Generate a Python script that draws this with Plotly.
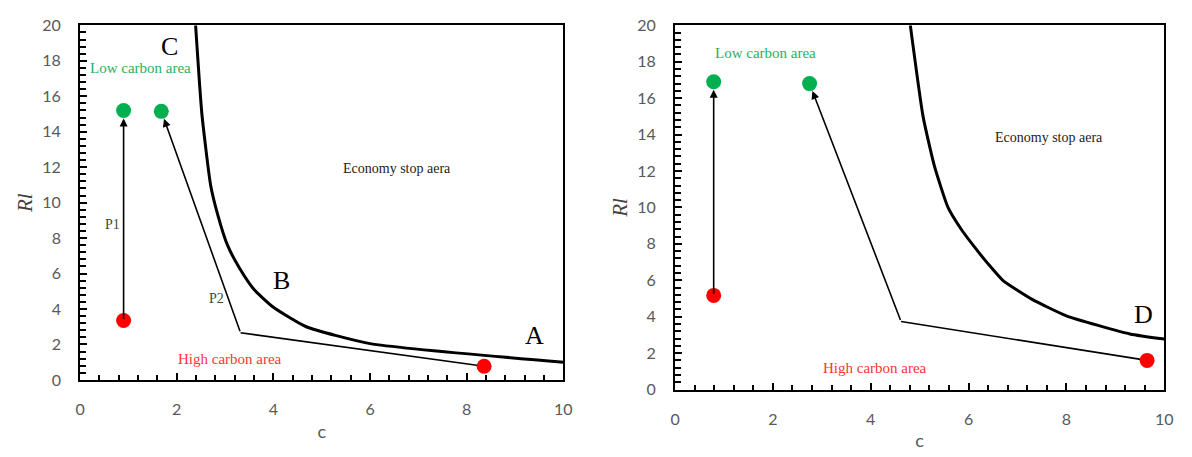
import plotly.graph_objects as go

# ---------------- data ----------------
# Left panel: economy-stop boundary (A-B-C)
left_curve_c = [2.39, 2.52, 2.7, 2.85, 3.05, 3.3, 3.6, 4.0, 4.68, 6.0, 10.0]
left_curve_rl = [20, 15, 11, 9.3, 7.6, 6.3, 5.1, 4.1, 3.0, 2.05, 1.0]
# Left panel path P1
left_p1_c = [0.9, 0.9]
left_p1_rl = [3.35, 15.2]
# Left panel path P2 (start, kink, end)
left_p2_c = [8.36, 3.32, 1.68]
left_p2_rl = [0.77, 2.66, 15.15]

# Right panel: economy-stop boundary (D)
right_curve_c = [4.81, 5.07, 5.3, 5.58, 5.85, 6.1, 6.4, 6.7, 7.3, 8.0, 9.3, 10.0]
right_curve_rl = [20, 15, 12.3, 10, 8.8, 7.9, 6.9, 6.0, 4.95, 4.05, 3.05, 2.77]
# Right panel path P1
right_p1_c = [0.79, 0.79]
right_p1_rl = [5.17, 16.9]
# Right panel path P2 (start, kink, end)
right_p2_c = [9.65, 4.62, 2.75]
right_p2_rl = [1.6, 3.74, 16.8]

x_range = [0, 10]
y_range = [0, 20]

GREEN = "#00B050"
RED = "#FF0000"
SERIF = "Liberation Serif"

fig = go.Figure()

def add_panel(xa, ya, curve_c, curve_rl, p1_c, p1_rl, p2_c, p2_rl):
    fig.add_trace(go.Scatter(x=curve_c, y=curve_rl, mode="lines",
                             line=dict(color="black", width=3, shape="spline", smoothing=0.5),
                             xaxis=xa, yaxis=ya, showlegend=False, hoverinfo="skip"))
    fig.add_annotation(x=p1_c[1], y=p1_rl[1], ax=p1_c[0], ay=p1_rl[0],
                       xref=xa, yref=ya, axref=xa, ayref=ya, text="",
                       showarrow=True, arrowhead=2, arrowsize=1, arrowwidth=1.6,
                       arrowcolor="black", standoff=8)
    fig.add_trace(go.Scatter(x=p2_c[:2], y=p2_rl[:2], mode="lines",
                             line=dict(color="black", width=1.6),
                             xaxis=xa, yaxis=ya, showlegend=False, hoverinfo="skip"))
    fig.add_annotation(x=p2_c[2], y=p2_rl[2], ax=p2_c[1], ay=p2_rl[1],
                       xref=xa, yref=ya, axref=xa, ayref=ya, text="",
                       showarrow=True, arrowhead=2, arrowsize=1, arrowwidth=1.6,
                       arrowcolor="black", standoff=8)
    fig.add_trace(go.Scatter(x=[p1_c[0], p2_c[0]], y=[p1_rl[0], p2_rl[0]], mode="markers",
                             marker=dict(color=RED, size=15),
                             xaxis=xa, yaxis=ya, showlegend=False, hoverinfo="skip"))
    fig.add_trace(go.Scatter(x=[p1_c[1], p2_c[2]], y=[p1_rl[1], p2_rl[2]], mode="markers",
                             marker=dict(color=GREEN, size=15),
                             xaxis=xa, yaxis=ya, showlegend=False, hoverinfo="skip"))

add_panel("x", "y", left_curve_c, left_curve_rl, left_p1_c, left_p1_rl, left_p2_c, left_p2_rl)
add_panel("x2", "y2", right_curve_c, right_curve_rl, right_p1_c, right_p1_rl, right_p2_c, right_p2_rl)

def label(xref, yref, x, y, text, color="black", size=15):
    fig.add_annotation(x=x, y=y, xref=xref, yref=yref, text=text, showarrow=False,
                       font=dict(family=SERIF, size=size, color=color))

# left labels
label("x", "y", 1.86, 18.8, "C", size=26)
label("x", "y", 1.26, 17.6, "Low carbon area", color="#22B35F")
label("x", "y", 6.56, 11.95, "Economy stop aera", color="#222222", size=14)
label("x", "y", 4.17, 5.6, "B", size=26)
label("x", "y", 9.4, 2.5, "A", size=26)
label("x", "y", 0.68, 8.75, "P1", color="#444444", size=14)
label("x", "y", 2.82, 4.6, "P2", color="#444444", size=14)
label("x", "y", 3.11, 1.17, "High carbon area", color="#FF3333")
# right labels
label("x2", "y2", 1.84, 18.5, "Low carbon area", color="#22B35F")
label("x2", "y2", 7.65, 13.86, "Economy stop aera", color="#222222", size=14)
label("x2", "y2", 9.57, 4.1, "D", size=26)
label("x2", "y2", 4.08, 1.16, "High carbon area", color="#FF3333")

TICKFONT = dict(family="Lato", size=16, color="#595959")

def xaxis_cfg(domain, anchor):
    return dict(domain=domain, anchor=anchor, range=x_range,
                tickmode="linear", tick0=0, dtick=2,
                ticks="inside", ticklen=7, tickwidth=2, tickcolor="black",
                minor=dict(ticks="inside", tick0=0, dtick=0.4, ticklen=5, tickwidth=2,
                           tickcolor="black", showgrid=False),
                showline=True, linecolor="black", linewidth=2, mirror=True,
                showgrid=False, zeroline=False, tickfont=TICKFONT, ticklabelstandoff=14,
                title=dict(text="c", font=dict(family="Lato", size=18, color="#595959"),
                           standoff=8))

def yaxis_cfg(domain, anchor):
    return dict(domain=domain, anchor=anchor, range=y_range,
                tickmode="linear", tick0=0, dtick=2,
                ticks="inside", ticklen=7, tickwidth=2, tickcolor="black",
                minor=dict(ticks="inside", tick0=0, dtick=0.4, ticklen=6, tickwidth=2,
                           tickcolor="black", showgrid=False),
                showline=True, linecolor="black", linewidth=2, mirror=True,
                showgrid=False, zeroline=False, tickfont=TICKFONT, ticklabelstandoff=14,
                title=dict(text="<i>Rl</i>", font=dict(family=SERIF, size=21, color="#404040"),
                           standoff=4))

fig.update_layout(
    width=1192, height=457,
    margin=dict(l=0, r=0, t=0, b=0),
    paper_bgcolor="white", plot_bgcolor="white",
    xaxis=xaxis_cfg([76 / 1192, 565 / 1192], "y"),
    yaxis=yaxis_cfg([1 - 386 / 457, 1 - 16 / 457], "x"),
    xaxis2=xaxis_cfg([678 / 1192, 1173 / 1192], "y2"),
    yaxis2=yaxis_cfg([1 - 396 / 457, 1 - 16 / 457], "x2"),
)

fig.write_html("out.html")
